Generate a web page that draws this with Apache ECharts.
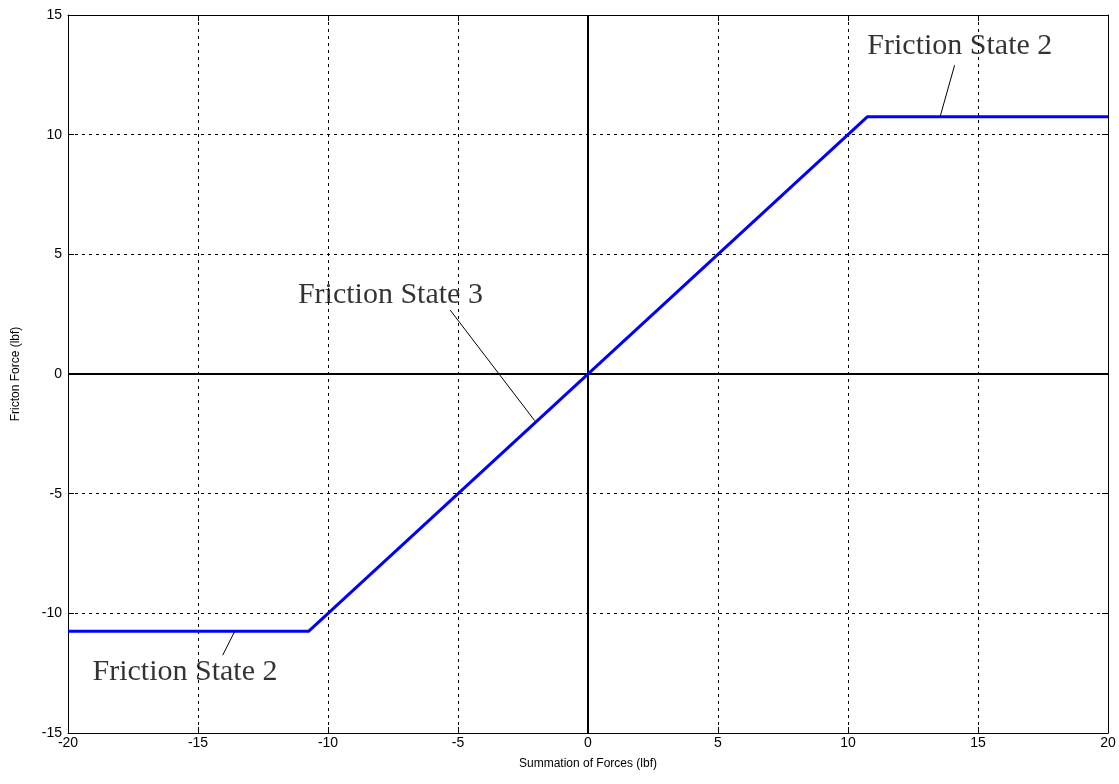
<!DOCTYPE html>
<html>
<head>
<meta charset="utf-8">
<script src="https://cdn.jsdelivr.net/npm/echarts@6/dist/echarts.min.js"></script>
<style>html,body{margin:0;padding:0;background:#fff;}#c{width:1119px;height:784px;}</style>
</head>
<body>
<div id="c"></div>
<script>
// Data
const curveX = [-20, -10.75, 10.75, 20];
const curveY = [-10.75, -10.75, 10.75, 10.75];
const labelTexts = ['Friction State 2', 'Friction State 3', 'Friction State 2'];
const labelPos = [[14.3, 13.7], [-7.6, 3.3], [-15.5, -12.45]];
const leaders = [
  [[14.1, 12.9], [13.55, 10.78]],
  [[-5.3, 2.67], [-2.05, -1.95]],
  [[-14.05, -11.75], [-13.6, -10.78]]
];
const xMin = -20, xMax = 20, xStep = 5;
const yMin = -15, yMax = 15, yStep = 5;

const chart = echarts.init(document.getElementById('c'));
const axisFont = { color: '#000', fontFamily: 'Liberation Sans, Arial, sans-serif', fontSize: 14 };
const borderLine = { show: true, onZero: false, lineStyle: { color: '#000', width: 1 } };
const ticks = { show: true, inside: true, length: 6, lineStyle: { color: '#000' } };
const series = [
  {
    type: 'line', data: curveX.map((x, i) => [x, curveY[i]]),
    symbol: 'none', lineStyle: { color: '#0000ff', width: 3 }, z: 5,
    markLine: {
      silent: true, symbol: 'none', label: { show: false },
      lineStyle: { color: '#000', type: 'solid', width: 2 },
      data: [{ xAxis: 0 }, { yAxis: 0 }]
    }
  },
  {
    type: 'scatter', symbolSize: 0,
    data: labelPos.map((p, i) => ({ value: p, name: labelTexts[i] })),
    label: {
      show: true, position: 'inside', formatter: p => p.name,
      fontFamily: 'Liberation Serif, Times New Roman, serif', fontSize: 30, color: '#000',
      textBorderWidth: 0
    }, z: 6
  }
];
leaders.forEach(seg => series.push({
  type: 'line', data: seg, symbol: 'none',
  lineStyle: { color: '#000', width: 1 }, z: 6
}));

chart.setOption({
  backgroundColor: '#fff',
  animation: false,
  grid: { left: 68, right: 11, top: 15, bottom: 51 },
  xAxis: [
    {
      type: 'value', min: xMin, max: xMax, interval: xStep,
      name: 'Summation of Forces (lbf)', nameLocation: 'middle', nameGap: 25,
      nameTextStyle: { color: '#000', fontFamily: 'Liberation Sans, Arial, sans-serif', fontSize: 12 },
      axisLine: borderLine, axisTick: ticks,
      axisLabel: Object.assign({ margin: 3 }, axisFont),
      splitLine: { show: true, lineStyle: { color: '#000', type: [3, 4], width: 1 } }
    },
    {
      type: 'value', position: 'top', min: xMin, max: xMax, interval: xStep,
      axisLine: borderLine, axisTick: ticks,
      axisLabel: { show: false }, splitLine: { show: false }
    }
  ],
  yAxis: [
    {
      type: 'value', min: yMin, max: yMax, interval: yStep,
      name: 'Fricton Force (lbf)', nameLocation: 'middle', nameGap: 46,
      nameTextStyle: { color: '#000', fontFamily: 'Liberation Sans, Arial, sans-serif', fontSize: 12 },
      axisLine: borderLine, axisTick: ticks,
      axisLabel: Object.assign({ margin: 6 }, axisFont),
      splitLine: { show: true, lineStyle: { color: '#000', type: [3, 4], width: 1 } }
    },
    {
      type: 'value', position: 'right', min: yMin, max: yMax, interval: yStep,
      axisLine: borderLine, axisTick: ticks,
      axisLabel: { show: false }, splitLine: { show: false }
    }
  ],
  series: series
});
</script>
</body>
</html>
